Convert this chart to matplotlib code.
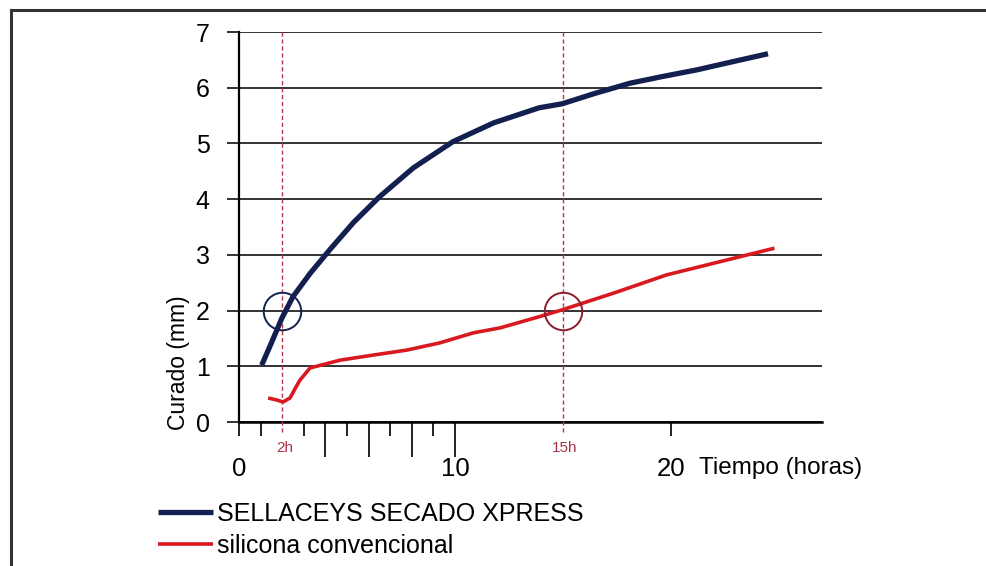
import numpy as np
import matplotlib
matplotlib.use('Agg')
from matplotlib import pyplot as plt
from matplotlib.lines import Line2D

plt.rcParams['font.family'] = ['Liberation Sans', 'DejaVu Sans']

# curado vs tiempo
xpress_t = [1.05, 1.5, 1.98, 2.5, 3.3, 4.2, 5.3, 6.5, 8.07, 9.9, 11.8, 13.9, 14.95, 16.5, 18.1, 19.6, 21.2, 22.9, 24.5]
xpress_mm = [1.02, 1.42, 1.86, 2.25, 2.67, 3.09, 3.58, 4.04, 4.56, 5.03, 5.37, 5.64, 5.71, 5.9, 6.08, 6.2, 6.32, 6.47, 6.61]
conv_t = [1.35, 1.7, 2.04, 2.36, 2.6, 2.82, 3.29, 4.68, 6.2, 7.76, 9.3, 10.85, 12.1, 13.9, 14.94, 17.4, 19.8, 22.3, 24.8]
conv_mm = [0.43, 0.4, 0.36, 0.43, 0.6, 0.75, 0.97, 1.11, 1.2, 1.29, 1.42, 1.6, 1.69, 1.89, 2.01, 2.32, 2.64, 2.88, 3.12]

marks_t = [2, 15]
marks_lbl = ['2h', '15h']
circle_xpress = (2, 2)
circle_conv = (15, 2)

navy = '#13204f'
red = '#d8191f'
dash_col = '#b3344a'

fig = plt.figure(figsize=(9.86, 5.66), dpi=100)
ax = fig.add_axes([239/986, 1-422/566, (822-239)/986, (422-32)/566])

ax.plot(xpress_t, xpress_mm, color=navy, lw=3.8, solid_capstyle='butt', solid_joinstyle='round',
        label='SELLACEYS SECADO XPRESS', zorder=4)
ax.plot(conv_t, conv_mm, color=red, lw=2.6, solid_capstyle='butt', solid_joinstyle='round',
        label='silicona convencional', zorder=4)

ax.plot(*circle_xpress, marker='o', ms=27, mfc='none', mec=navy, mew=1.4, zorder=5)
ax.plot(*circle_conv, marker='o', ms=27, mfc='none', mec='#8a1c2c', mew=1.4, zorder=5)

for t, lbl in zip(marks_t, marks_lbl):
    ax.axvline(t, ymin=-0.025, ymax=1, color=dash_col, lw=1, ls=(0, (3, 2)), clip_on=False, zorder=3)
    ax.text(t + 0.1, -0.46, lbl, color='#a83446', fontsize=11, ha='center', va='center')

ax.set_xlim(0, 27)
ax.set_ylim(0, 7)
ax.set_yticks(range(8))
ax.yaxis.grid(True, color='#333333', lw=1.4, zorder=1)
ax.tick_params(axis='y', length=9, width=1.4, color='#333333', labelsize=18, pad=12)

ax.set_xticks([4, 6, 8, 10])
ax.set_xticks([0, 1, 3, 5, 7, 9, 20], minor=True)
ax.tick_params(axis='x', which='major', length=25, width=1.4, color='#222222', labelbottom=False)
ax.tick_params(axis='x', which='minor', length=10, width=1.4, color='#222222', labelbottom=False)

sec = ax.secondary_xaxis('bottom')
sec.set_xticks([0, 10, 20])
sec.tick_params(length=0, labelsize=18.5, pad=25)
sec.spines['bottom'].set_visible(False)
ax.text(21.3, -0.83, 'Tiempo (horas)', fontsize=17.5, ha='left', va='center')

for s in ['top', 'right']:
    ax.spines[s].set_visible(False)
ax.spines['left'].set_linewidth(1.6)
ax.spines['bottom'].set_linewidth(1.8)
ax.spines['bottom'].set_zorder(2)

ax.text(-2.8, 1.06, 'Curado (mm)', rotation=90, fontsize=16.5, ha='center', va='center')

fig.legend(loc='upper left', bbox_to_anchor=(158/986, 1-502/566), frameon=False,
           fontsize=18, handlelength=2.2, handletextpad=0.15, labelspacing=0.32,
           borderpad=0, borderaxespad=0)

# outer frame
fig.add_artist(Line2D([11/986, 1], [1-10/566, 1-10/566], color='#333333', lw=2.2))
fig.add_artist(Line2D([11/986, 11/986], [0, 1-10/566], color='#333333', lw=2.2))

fig.savefig('out.png', dpi=100)
